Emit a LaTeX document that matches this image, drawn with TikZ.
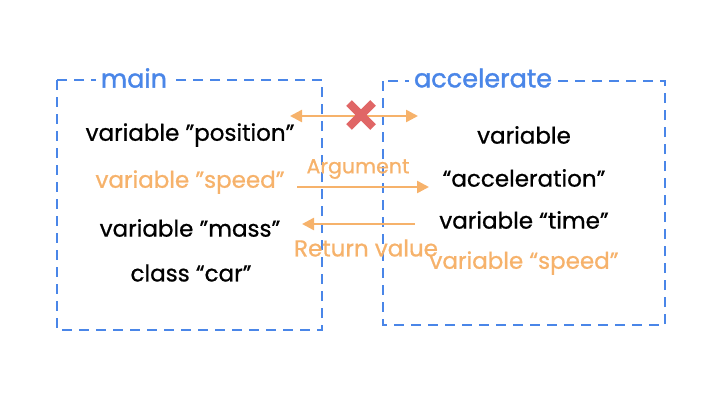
\documentclass[tikz,border=0pt]{standalone}
\usepackage{fontspec}
\setmainfont{Poppins}[FakeBold=0.8]
\newfontfamily\ttlfont{Poppins}[FakeBold=1.4]
\usetikzlibrary{arrows.meta}
\definecolor{bblue}{HTML}{4A86E8}
\definecolor{oor}{HTML}{F6B26B}
\definecolor{rred}{HTML}{E06666}
\begin{document}
\begin{tikzpicture}[x=1pt,y=-1pt,
  box/.style={draw=bblue,line width=2.5pt,dash pattern=on 10pt off 7pt},
  ttl/.style={fill=white,text=bblue,font=\ttlfont\fontsize{25.5}{28}\selectfont,inner sep=5pt},
  txt/.style={font=\fontsize{23}{26}\selectfont,inner sep=1pt},
  otxt/.style={txt,text=oor},
  arr/.style={draw=oor,line width=2.5pt,-{Triangle[length=12pt,width=12pt]}},
  arrs/.style={draw=oor,line width=2.5pt,{Triangle[length=12pt,width=12pt]}-{Triangle[length=12pt,width=12pt]}}]
\useasboundingbox (0,0) rectangle (711,400);
\draw[box] (57,80) rectangle (322,330);
\draw[box] (383,81) rectangle (665,325);
\node[ttl] (tmain) at (134,78) {main};
\node[ttl] (tacc) at (483,78) {accelerate};
\node[txt] (pos) at (190,135) {variable "position"};
\node[otxt] (spd) at (190,182) {variable "speed"};
\node[txt] (mass) at (190,228) {variable "mass"};
\node[txt] (car) at (191,273) {class “car”};
\node[txt] (var) at (524,135) {variable};
\node[txt] (accel) at (524,178) {“acceleration”};
\node[txt] (time) at (524,220) {variable “time”};
\node[otxt] (spd2) at (524,263) {variable “speed”};
\coordinate (d1) at (290,116);
\coordinate (d2) at (418,116);
\draw[arrs] (d1) -- (d2);
\coordinate (x0) at (361,115);
\draw[rred,line width=8pt] ([shift={(-12,-12)}]x0) -- ([shift={(12,12)}]x0);
\draw[rred,line width=8pt] ([shift={(-12,12)}]x0) -- ([shift={(12,-12)}]x0);
\coordinate (a1) at (297,187);
\coordinate (a2) at (429,187);
\draw[arr] (a1) -- (a2);
\node[otxt,font=\fontsize{20.5}{23}\selectfont] (argl) at (358,169) {Argument};
\coordinate (r1) at (415,224);
\coordinate (r2) at (302,224);
\draw[arr] (r1) -- (r2);
\node[otxt] (retl) at (366,248) {Return value};
\end{tikzpicture}
\end{document}
